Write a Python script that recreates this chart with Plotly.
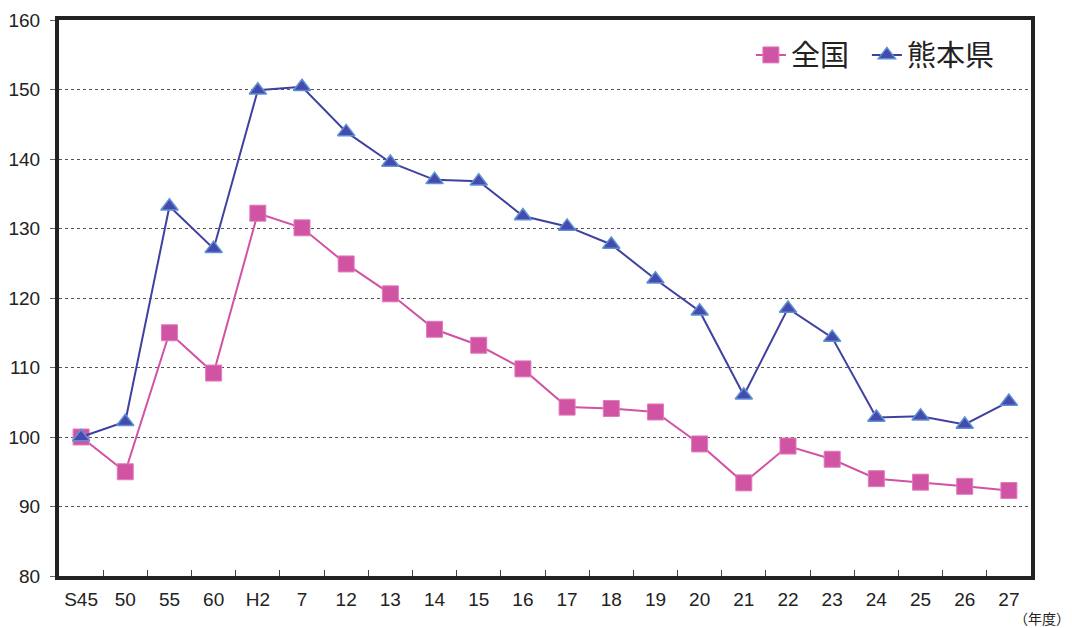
import plotly.graph_objects as go

categories = ["S45", "50", "55", "60", "H2", "7", "12", "13", "14", "15", "16",
              "17", "18", "19", "20", "21", "22", "23", "24", "25", "26", "27"]
zenkoku = [100, 95.0, 115.0, 109.2, 132.2, 130.1, 124.9, 120.6, 115.5, 113.2, 109.8,
           104.3, 104.1, 103.6, 99.0, 93.4, 98.7, 96.8, 94.0, 93.5, 92.9, 92.3]
kumamoto = [100, 102.2, 133.2, 127.1, 149.9, 150.4, 143.9, 139.5, 137.0, 136.8, 131.8,
            130.3, 127.7, 122.7, 118.1, 106.0, 118.5, 114.3, 102.8, 103.0, 101.8, 105.1]
y_ticks = [80, 90, 100, 110, 120, 130, 140, 150, 160]

fig = go.Figure()
fig.add_trace(go.Scatter(
    x=categories, y=zenkoku, name="全国  ", mode="lines+markers",
    line=dict(color="#D153A3", width=2),
    marker=dict(symbol="square", size=16, color="#D153A3",
                line=dict(color="#E07CBC", width=1)),
))
fig.add_trace(go.Scatter(
    x=categories, y=kumamoto, name="熊本県", mode="lines+markers",
    line=dict(color="#3F41A0", width=2),
    marker=dict(symbol="triangle-up", size=15, color="#4649AE",
                line=dict(color="#5C92D2", width=1.5)),
))

# the page body has an 8px default margin, so the figure is sized/offset to compensate
fig.update_layout(
    template="none",
    width=1064, height=620,
    margin=dict(l=51, r=41, t=12, b=52),
    paper_bgcolor="white", plot_bgcolor="white",
    font=dict(family="Liberation Sans, Arial, sans-serif", size=19, color="#222"),
    showlegend=True,
    legend=dict(
        orientation="h", x=0.968, y=0.937, xanchor="right", yanchor="middle",
        font=dict(family="Noto Sans CJK JP", size=29, color="#222"),
        bgcolor="rgba(0,0,0,0)", borderwidth=0,
    ),
    xaxis=dict(
        type="category", range=[-0.5, 21.5], automargin=False,
        showline=True, linecolor="#222", linewidth=4, mirror=True,
        ticks="inside", tickson="boundaries", ticklen=6, tickcolor="#444", tickwidth=1,
        showgrid=False, tickfont=dict(size=19), zeroline=False,
        ticklabelstandoff=3,
    ),
    yaxis=dict(
        range=[80, 160], tickvals=y_ticks, automargin=False,
        showline=True, linecolor="#222", linewidth=4, mirror=True,
        ticks="outside", ticklen=5, tickcolor="#666", tickwidth=1,
        showgrid=True, gridcolor="#555", griddash="dot", gridwidth=1,
        zeroline=False, tickfont=dict(size=19), ticklabelstandoff=6,
    ),
)
fig.add_annotation(
    text="（年度）", xref="paper", yref="paper", x=1.041, y=-0.0755,
    xanchor="right", yanchor="middle", showarrow=False, borderpad=0,
    font=dict(family="Noto Sans CJK JP", size=14, color="#222"),
)
fig.write_html("out.html")
